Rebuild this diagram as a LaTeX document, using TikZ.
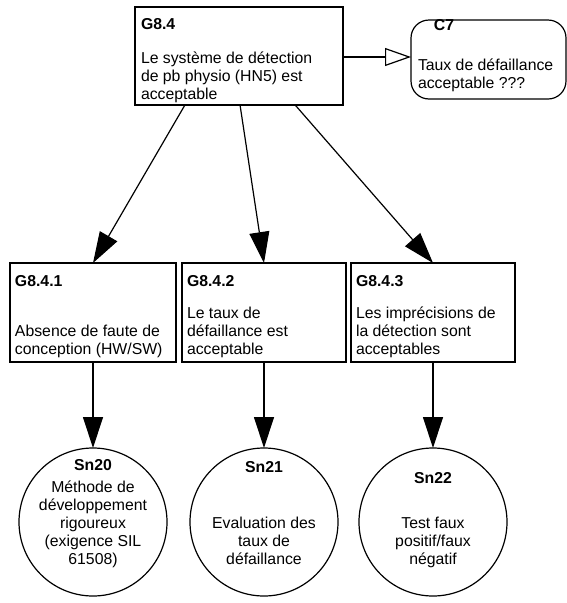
\documentclass[tikz,border=0pt]{standalone}
\usepackage{fontspec}
\setmainfont{Liberation Sans}
\usetikzlibrary{arrows.meta,calc}
\tikzset{
  ln/.style={line width=1.2pt, draw=black},
  gbox/.style={ln, rectangle, inner sep=0pt, outer sep=0pt, anchor=north west},
  cbox/.style={ln, rectangle, rounded corners=18pt, inner sep=0pt, outer sep=0pt, anchor=north west},
  snode/.style={ln, circle, inner sep=0pt, outer sep=0pt, minimum size=148pt},
  txt/.style={inner sep=0pt, outer sep=0pt, font=\fontsize{15.8}{18}\selectfont},
  lbl/.style={txt, font=\fontsize{15.8}{18}\selectfont\bfseries},
  arr/.style={ln, -{Triangle[length=31pt,width=20pt]}},
  openarr/.style={ln, -{Triangle[open,length=26pt,width=18pt,fill=white]}}
}
\begin{document}
\begin{tikzpicture}[x=1pt,y=-1pt]
\useasboundingbox[fill=white] (0,0) rectangle (566,603);

% top goal
\node[gbox, minimum width=208pt, minimum height=98pt] (g84) at (135,7) {};
\node[lbl, anchor=north west] (g84l) at (141,16.4) {\strut G8.4};
\node[txt, anchor=north west, align=left] (g84t) at (141,50.4)
  {\strut Le système de détection\\\strut de pb physio (HN5) est\\\strut acceptable};

% context
\node[cbox, minimum width=155pt, minimum height=79pt] (c7) at (411,20) {};
\node[lbl, anchor=north] (c7l) at (444,17.4) {\strut C7};
\node[txt, anchor=north west, align=left] (c7t) at (418,57.4)
  {\strut Taux de défaillance\\\strut acceptable ???};

% sub goals
\node[gbox, minimum width=166pt, minimum height=99pt] (g841) at (10,263) {};
\node[gbox, minimum width=164pt, minimum height=99pt] (g842) at (182,263) {};
\node[gbox, minimum width=164pt, minimum height=99pt] (g843) at (351,263) {};

\node[lbl, anchor=north west] (g841l) at (15,273.4) {\strut G8.4.1};
\node[lbl, anchor=north west] (g842l) at (187,273.4) {\strut G8.4.2};
\node[lbl, anchor=north west] (g843l) at (356,273.4) {\strut G8.4.3};

\node[txt, anchor=north west, align=left] (g841t) at (15,323.4)
  {\strut Absence de faute de\\\strut conception (HW/SW)};
\node[txt, anchor=north west, align=left] (g842t) at (187,305.4)
  {\strut Le taux de\\\strut défaillance est\\\strut acceptable};
\node[txt, anchor=north west, align=left] (g843t) at (356,305.4)
  {\strut Les imprécisions de\\\strut la détection sont\\\strut acceptables};

% solutions
\node[snode] (sn20) at (93,522) {};
\node[snode] (sn21) at (264,522) {};
\node[snode] (sn22) at (433,522) {};

\node[lbl, anchor=north] (sn20l) at (93,457.4) {\strut Sn20};
\node[txt, anchor=north, align=center] (sn20t) at (93,479.4)
  {\strut Méthode de\\\strut développement\\\strut rigoureux\\\strut (exigence SIL\\\strut 61508)};
\node[lbl, anchor=north] (sn21l) at (264,459.4) {\strut Sn21};
\node[txt, anchor=north, align=center] (sn21t) at (264,515.4)
  {\strut Evaluation des\\\strut taux de\\\strut défaillance};
\node[lbl, anchor=north] (sn22l) at (433,470.4) {\strut Sn22};
\node[txt, anchor=north, align=center] (sn22t) at (433,515.4)
  {\strut Test faux\\\strut positif/faux\\\strut négatif};

% connectors
\draw[openarr] (g84.east |- 0,57) -- (c7.west |- 0,57);
\draw[arr] ($(g84.south west)!0.24!(g84.south east)$) -- (g841.north);
\draw[arr] ($(g84.south west)!0.505!(g84.south east)$) -- (g842.north);
\draw[arr] ($(g84.south west)!0.77!(g84.south east)$) -- (g843.north);
\draw[arr] (g841.south) -- (sn20.north);
\draw[arr] (g842.south) -- (sn21.north);
\draw[arr] (g843.south) -- (sn22.north);
\end{tikzpicture}
\end{document}
